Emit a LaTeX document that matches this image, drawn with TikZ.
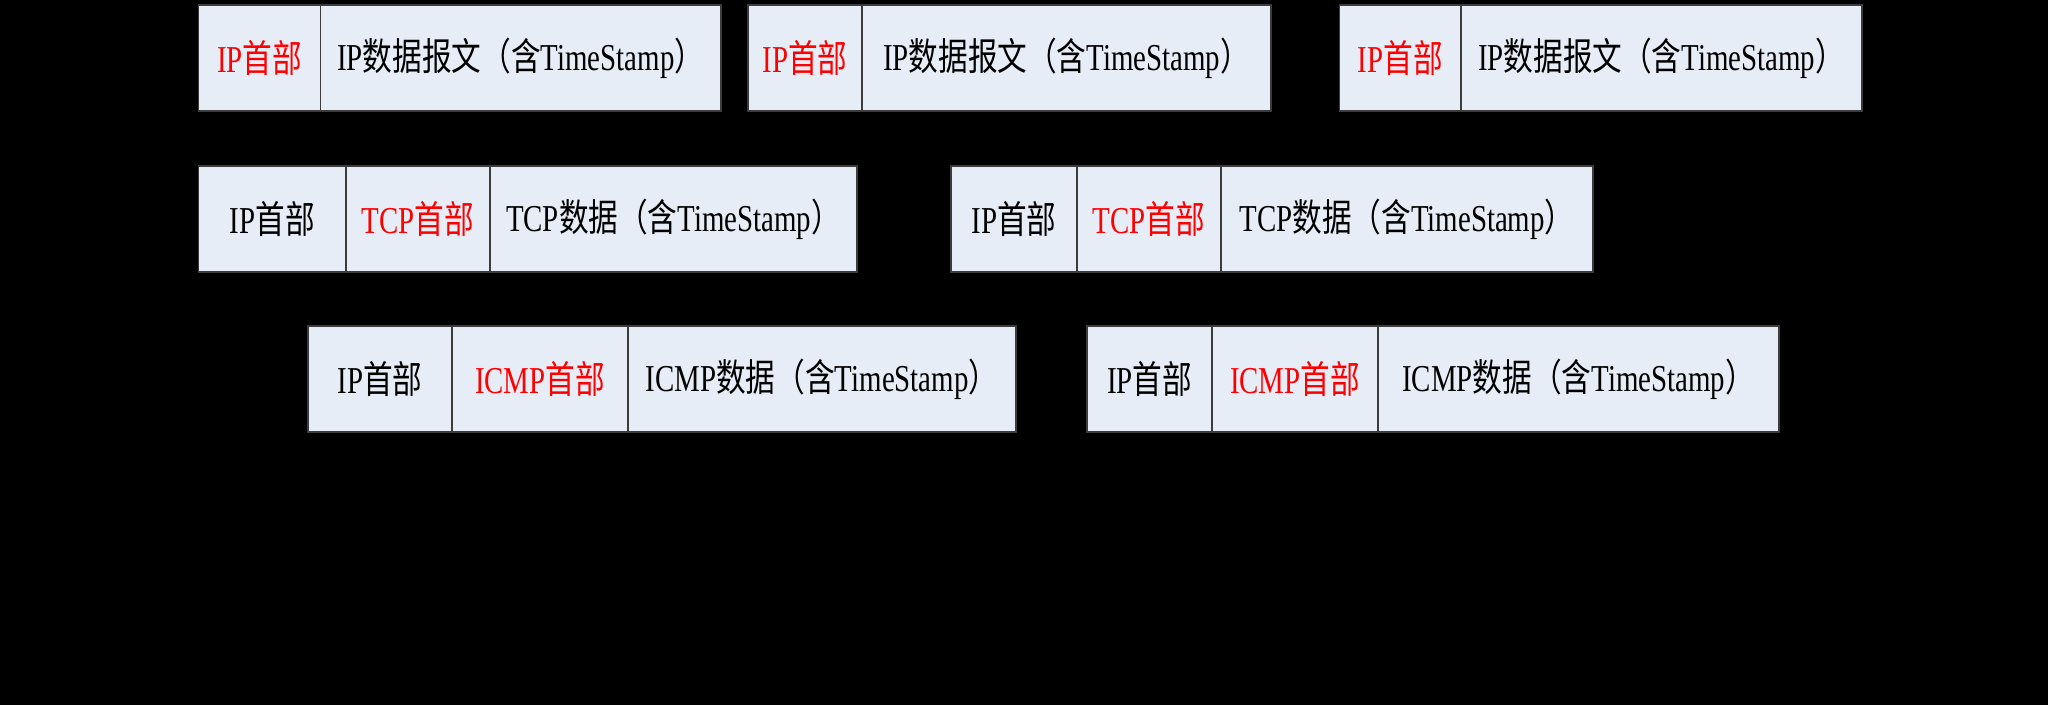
\documentclass[tikz,border=0pt]{standalone}
\usepackage{fontspec}
\setmainfont[FakeStretch=0.76]{Liberation Serif}
\newfontfamily\cjk[FakeStretch=0.78]{Noto Sans CJK SC}
\usetikzlibrary{positioning}
\definecolor{cellblue}{RGB}{231,237,247}
\definecolor{edgegray}{RGB}{60,60,60}
\tikzset{
  cell/.style={draw=edgegray,fill=cellblue,line width=0.6pt,minimum height=53pt,
    inner sep=0pt,outer sep=0pt,font=\fontsize{19}{19}\selectfont},
  hdr/.style={cell,text=red},
}
\newcommand{\zh}[1]{{\cjk #1}}

\begin{document}
\begin{tikzpicture}[x=0.5pt,y=-0.5pt]
  \fill[black] (0,0) rectangle (2048,705);
  \useasboundingbox (0,0) rectangle (2048,705);
  % IP datagrams
  \node[hdr,anchor=north west,minimum width=61pt] (iphA) at (198.5,5) {IP\zh{首部}};
  \node[cell,right=0pt of iphA,minimum width=200.25pt] (ipdA) {IP\zh{数据报文（含}TimeStamp\zh{）}};
  \node[hdr,anchor=north west,minimum width=57pt] (iphB) at (748,5) {IP\zh{首部}};
  \node[cell,right=0pt of iphB,minimum width=204.5pt] (ipdB) {IP\zh{数据报文（含}TimeStamp\zh{）}};
  \node[hdr,anchor=north west,minimum width=60.75pt] (iphC) at (1339.5,5) {IP\zh{首部}};
  \node[cell,right=0pt of iphC,minimum width=200.5pt] (ipdC) {IP\zh{数据报文（含}TimeStamp\zh{）}};
  % TCP segments
  \node[cell,anchor=north west,minimum width=73.75pt] (tipA) at (198.5,166) {IP\zh{首部}};
  \node[hdr,right=0pt of tipA,minimum width=72pt] (tcphA) {TCP\zh{首部}};
  \node[cell,right=0pt of tcphA,minimum width=183.5pt] (tcpdA) {TCP\zh{数据（含}TimeStamp\zh{）}};
  \node[cell,anchor=north west,minimum width=63pt] (tipB) at (951,166) {IP\zh{首部}};
  \node[hdr,right=0pt of tipB,minimum width=72pt] (tcphB) {TCP\zh{首部}};
  \node[cell,right=0pt of tcphB,minimum width=186pt] (tcpdB) {TCP\zh{数据（含}TimeStamp\zh{）}};
  % ICMP messages
  \node[cell,anchor=north west,minimum width=72pt] (cipA) at (308,326) {IP\zh{首部}};
  \node[hdr,right=0pt of cipA,minimum width=88pt] (icmphA) {ICMP\zh{首部}};
  \node[cell,right=0pt of icmphA,minimum width=194pt] (icmpdA) {ICMP\zh{数据（含}TimeStamp\zh{）}};
  \node[cell,anchor=north west,minimum width=62.5pt] (cipB) at (1087,326) {IP\zh{首部}};
  \node[hdr,right=0pt of cipB,minimum width=83pt] (icmphB) {ICMP\zh{首部}};
  \node[cell,right=0pt of icmphB,minimum width=200.5pt] (icmpdB) {ICMP\zh{数据（含}TimeStamp\zh{）}};
\end{tikzpicture}
\end{document}
